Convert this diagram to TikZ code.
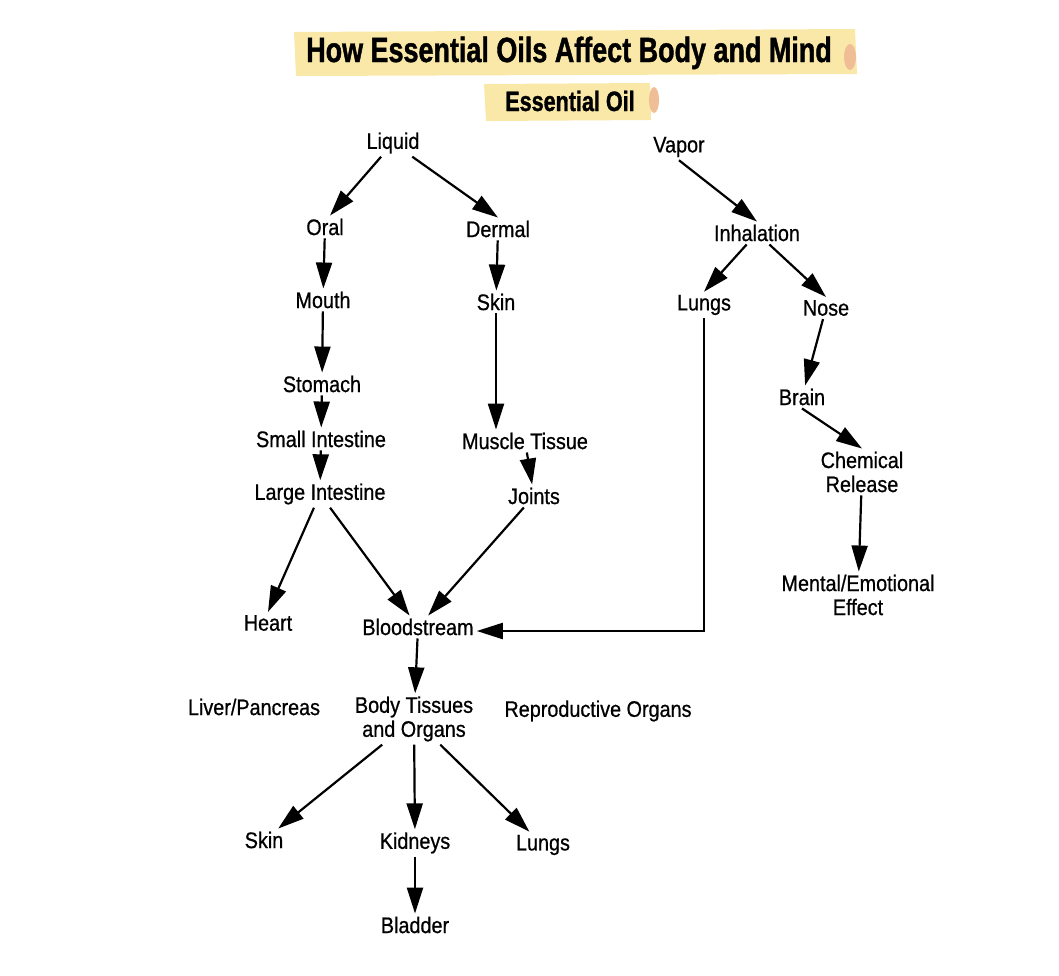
\documentclass[tikz,border=0pt]{standalone}
\usepackage{fontspec}
\setmainfont{Liberation Sans}[FakeStretch=0.88, FakeBold=0.7]
\newfontfamily\headfont{Liberation Sans Bold}[FakeStretch=0.77, FakeBold=1.2]
\usetikzlibrary{arrows.meta}
\definecolor{hilite}{RGB}{250,232,168}
\definecolor{blob}{RGB}{240,190,150}

\begin{document}
\begin{tikzpicture}[x=1pt, y=-1pt, every node/.style={font=\fontsize{22.5}{24}\selectfont, inner sep=3pt, align=center},
	>={Triangle[length=26pt, width=16pt]}, arr/.style={->, line width=2.2pt}]
	\useasboundingbox (0,0) rectangle (1059,975);
	% highlighter bands behind the headings
	\fill[hilite] (294,32) -- (855,29) -- (857,74) -- (296,76) -- cycle;
	\fill[hilite] (484,84) -- (650,83) -- (651,120) -- (486,121) -- cycle;
	\fill[blob] (850,57) ellipse (6 and 13);
	\fill[blob] (654,100) ellipse (5 and 13);
	\node[font=\fontsize{35}{37}\selectfont\headfont, anchor=base] (title) at (569,62) {How Essential Oils Affect Body and Mind};
	\node[font=\fontsize{28}{30}\selectfont\headfont, anchor=base] (oil) at (570,111) {Essential Oil};
	% nodes
	\node (liquid) at (393,143) {Liquid};
	\node (vapor) at (679,147) {Vapor};
	\node (oral) at (325,227) {Oral};
	\node (dermal) at (498,229) {Dermal};
	\node (inhal) at (757,233) {Inhalation};
	\node (mouth) at (323,300) {Mouth};
	\node (skin) at (496,302) {Skin};
	\node (lungs) at (704,305) {Lungs};
	\node (nose) at (826,308) {Nose};
	\node (stomach) at (322,384) {Stomach};
	\node (brain) at (802,397) {Brain};
	\node (smallint) at (321,439) {Small Intestine};
	\node (muscle) at (525,441) {Muscle Tissue};
	\node (chem) at (862,472) {Chemical\\Release};
	\node (largeint) at (320,494) {Large Intestine};
	\node (joints) at (534,496) {Joints};
	\node (mental) at (858,595) {Mental/Emotional\\Effect};
	\node (heart) at (268,623) {Heart};
	\node (blood) at (418,627) {Bloodstream};
	\node (liver) at (254,707) {Liver/Pancreas};
	\node (body) at (414,719) {Body Tissues\\and Organs};
	\node (repro) at (598,711) {Reproductive Organs};
	\node (skinb) at (264,840) {Skin};
	\node (kidneys) at (415,843) {Kidneys};
	\node (lungsb) at (543,845) {Lungs};
	\node (bladder) at (415,925) {Bladder};
	% arrows
	\draw[arr] (liquid) -- ([xshift=5pt]oral.north);
	\draw[arr] (liquid) -- (dermal.north);
	\draw[arr] (oral) -- (mouth);
	\draw[arr] (mouth) -- (stomach);
	\draw[arr] (stomach) -- (smallint);
	\draw[arr] (smallint) -- (largeint);
	\draw[arr] (dermal) -- (skin);
	\draw[arr] (skin) -- (skin |- muscle.north);
	\draw[arr] (muscle) -- (joints);
	\draw[arr] (largeint) -- (heart.north);
	\draw[arr] (largeint) -- (blood);
	\draw[arr] (joints) -- (blood);
	\draw[arr] (vapor.south) -- (inhal.north);
	\draw[arr] (inhal) -- (lungs.north);
	\draw[arr] (inhal) -- (nose.north);
	\draw[arr] (nose) -- (brain);
	\draw[arr] (brain.south) -- (chem.north);
	\draw[arr] (chem) -- (mental);
	\draw[arr] (lungs) |- ([yshift=-4pt]blood.east);
	\draw[arr] (blood) -- (body);
	\draw[arr] (body) -- (skinb);
	\draw[arr] (body) -- (kidneys);
	\draw[arr] (body) -- (lungsb);
	\draw[arr] (kidneys) -- (bladder);
\end{tikzpicture}
\end{document}
